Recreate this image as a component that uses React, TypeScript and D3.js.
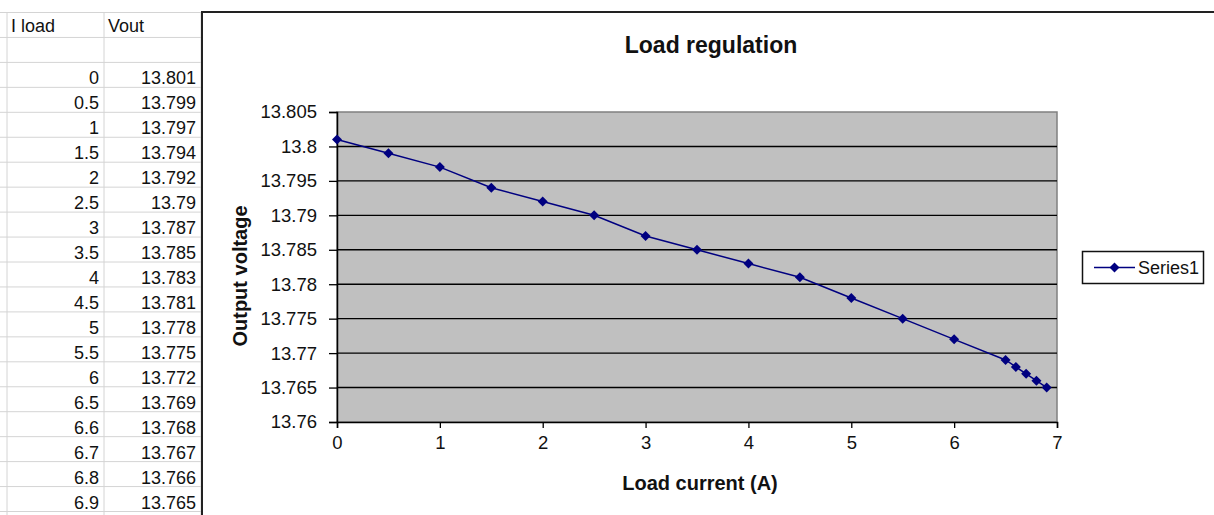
import React, { useRef, useEffect } from 'react';
import * as d3 from 'd3';

// values as typed in the worksheet
const iLoad = [0, 0.5, 1, 1.5, 2, 2.5, 3, 3.5, 4, 4.5, 5, 5.5, 6, 6.5, 6.6, 6.7, 6.8, 6.9];
const vOut = [13.801, 13.799, 13.797, 13.794, 13.792, 13.79, 13.787, 13.785, 13.783, 13.781, 13.778, 13.775, 13.772, 13.769, 13.768, 13.767, 13.766, 13.765];
const columnHeaders = ['I load', 'Vout'];

const yTicks = [13.76, 13.765, 13.77, 13.775, 13.78, 13.785, 13.79, 13.795, 13.8, 13.805];
const xTicks = [0, 1, 2, 3, 4, 5, 6, 7];
const seriesName = 'Series1';
const chartTitle = 'Load regulation';
const xTitle = 'Load current (A)';
const yTitle = 'Output voltage';

const FONT = "'Liberation Sans', Arial, sans-serif";

export default function App() {
  const svgRef = useRef<SVGSVGElement>(null);

  useEffect(() => {
    const svg = d3.select(svgRef.current);
    svg.selectAll('*').remove();

    const W = 1214;
    const H = 515;

    // ---- worksheet behind the chart ----
    const sheetTop = 12.5;
    const rowH = 24.95;
    const colX = [7, 104, 201];
    const sheet = svg.append('g').style('font-family', FONT).style('font-size', '18px');

    const nRows = iLoad.length + 2;
    for (let r = 0; r <= nRows; r++) {
      const yy = sheetTop + r * rowH;
      sheet.append('line')
        .attr('x1', 0).attr('x2', 202)
        .attr('y1', yy).attr('y2', yy)
        .attr('stroke', '#d4d4d4').attr('stroke-width', 1);
    }
    colX.forEach(cx => {
      sheet.append('line')
        .attr('x1', cx).attr('x2', cx)
        .attr('y1', sheetTop).attr('y2', H)
        .attr('stroke', '#d4d4d4').attr('stroke-width', 1);
    });

    // header labels
    sheet.append('text').attr('x', 11).attr('y', sheetTop + rowH - 5)
      .attr('fill', '#111').text(columnHeaders[0]);
    sheet.append('text').attr('x', 108).attr('y', sheetTop + rowH - 5)
      .attr('fill', '#111').text(columnHeaders[1]);

    iLoad.forEach((v, i) => {
      const base = sheetTop + (i + 3) * rowH - 3;
      sheet.append('text').attr('x', 99).attr('y', base)
        .attr('text-anchor', 'end').attr('fill', '#111').text(String(v));
      sheet.append('text').attr('x', 196).attr('y', base)
        .attr('text-anchor', 'end').attr('fill', '#111').text(String(vOut[i]));
    });

    // ---- chart area ----
    svg.append('rect')
      .attr('x', 202).attr('y', 12)
      .attr('width', W - 201).attr('height', H)
      .attr('fill', '#fff')
      .attr('stroke', '#222').attr('stroke-width', 2);

    const left = 337;
    const right = 1057;
    const top = 112;
    const bottom = 422;

    const x = d3.scaleLinear().domain([0, 7]).range([left, right]);
    const y = d3.scaleLinear().domain([13.76, 13.805]).range([bottom, top]);

    // plot area
    svg.append('rect')
      .attr('x', left).attr('y', top)
      .attr('width', right - left).attr('height', bottom - top)
      .attr('fill', '#c0c0c0')
      .attr('stroke', '#808080').attr('stroke-width', 1.5);

    // gridlines
    svg.append('g')
      .selectAll('line')
      .data(yTicks.slice(1, -1))
      .enter().append('line')
      .attr('x1', left).attr('x2', right)
      .attr('y1', d => y(d)).attr('y2', d => y(d))
      .attr('stroke', '#000').attr('stroke-width', 1.4);

    // axes
    const yAxis = d3.axisLeft(y)
      .tickValues(yTicks)
      .tickSize(8)
      .tickPadding(12)
      .tickFormat(d => String(+(+d).toFixed(3)));
    const gy = svg.append('g').attr('transform', `translate(${left},0)`).call(yAxis);

    const xAxis = d3.axisBottom(x)
      .tickValues(xTicks)
      .tickSize(6)
      .tickPadding(8)
      .tickFormat(d => String(d));
    const gx = svg.append('g').attr('transform', `translate(0,${bottom})`).call(xAxis);

    [gy, gx].forEach(g => {
      g.select('.domain').attr('stroke', '#000').attr('stroke-width', 1.5);
      g.selectAll('.tick line').attr('stroke', '#000').attr('stroke-width', 1.3);
      g.selectAll('.tick text')
        .attr('fill', '#111')
        .style('font-family', FONT)
        .style('font-size', '18.5px');
    });

    // series
    const pts = iLoad.map((v, i) => [v, vOut[i]] as [number, number]);
    const line = d3.line<[number, number]>()
      .x(d => x(d[0]))
      .y(d => y(d[1]));

    svg.append('path')
      .datum(pts)
      .attr('d', line)
      .attr('fill', 'none')
      .attr('stroke', '#000080')
      .attr('stroke-width', 1.5);

    const diamond = d3.symbol().type(d3.symbolSquare).size(50);
    svg.append('g')
      .selectAll('path')
      .data(pts)
      .enter().append('path')
      .attr('d', diamond)
      .attr('transform', d => `translate(${x(d[0])},${y(d[1])}) rotate(45)`)
      .attr('fill', '#000080');

    // titles
    svg.append('text')
      .attr('x', 711).attr('y', 53)
      .attr('text-anchor', 'middle')
      .style('font-family', FONT)
      .style('font-size', '23px')
      .style('font-weight', 'bold')
      .attr('fill', '#111')
      .text(chartTitle);

    svg.append('text')
      .attr('x', 700).attr('y', 490)
      .attr('text-anchor', 'middle')
      .style('font-family', FONT)
      .style('font-size', '20px')
      .style('font-weight', 'bold')
      .attr('fill', '#111')
      .text(xTitle);

    svg.append('text')
      .attr('transform', `translate(247,276) rotate(-90)`)
      .attr('text-anchor', 'middle')
      .style('font-family', FONT)
      .style('font-size', '20px')
      .style('font-weight', 'bold')
      .attr('fill', '#111')
      .text(yTitle);

    // legend
    const lg = svg.append('g');
    lg.append('rect')
      .attr('x', 1082.5).attr('y', 251.5)
      .attr('width', 121).attr('height', 32)
      .attr('fill', '#fff')
      .attr('stroke', '#111').attr('stroke-width', 1.5);
    lg.append('line')
      .attr('x1', 1094).attr('x2', 1135)
      .attr('y1', 267.5).attr('y2', 267.5)
      .attr('stroke', '#000080').attr('stroke-width', 1.5);
    lg.append('path')
      .attr('d', diamond)
      .attr('transform', 'translate(1114.5,267.5) rotate(45)')
      .attr('fill', '#000080');
    lg.append('text')
      .attr('x', 1138).attr('y', 274)
      .style('font-family', FONT)
      .style('font-size', '18px')
      .attr('fill', '#111')
      .text(seriesName);
  }, []);

  return (
    <svg
      ref={svgRef}
      width={1214}
      height={515}
      style={{ position: 'fixed', left: 0, top: 0, background: '#fff' }}
    />
  );
}
